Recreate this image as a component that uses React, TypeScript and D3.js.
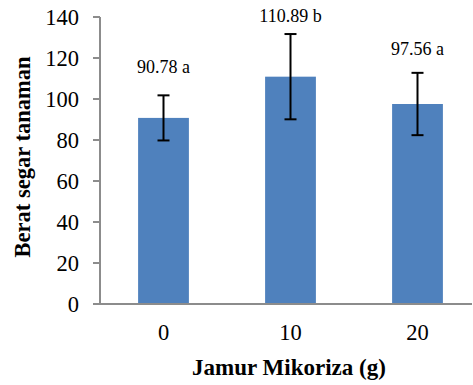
import React from 'react';
import * as d3 from 'd3';

// data
const doses = ['0', '10', '20'];
const means = [90.78, 110.89, 97.56];
const errors = [11, 20.8, 15.2];
const letters = ['a', 'b', 'a'];
// where each value label sits (in data units)
const labelAt = [112.5, 137.6, 121.5];
const yTicks = [0, 20, 40, 60, 80, 100, 120, 140];

const W = 473;
const H = 385;
const margin = { top: 17, left: 100, bottom: 81, right: 0 };

const App = () => {
  const y = d3.scaleLinear()
    .domain([0, 140])
    .range([H - margin.bottom, margin.top]);

  const x = d3.scaleBand()
    .domain(doses)
    .range([margin.left, 481])
    .paddingInner(0.6)
    .paddingOuter(0.3);

  const axisColor = '#8c8c8c';
  const font = "'Liberation Serif', 'Times New Roman', serif";

  return (
    <svg width={W} height={H} style={{ position: 'absolute', left: 0, top: 0, background: '#fff', fontFamily: font }}>
      {/* y axis */}
      <line x1={margin.left} x2={margin.left} y1={y(140)} y2={y(0)} stroke={axisColor} strokeWidth={2} />
      {yTicks.map(t => (
        <g key={t}>
          <line x1={margin.left - 7} x2={margin.left} y1={y(t)} y2={y(t)} stroke={axisColor} strokeWidth={2} />
          <text x={margin.left - 21} y={y(t)} dy="0.35em" textAnchor="end" fontSize={22.5} fill="#000">{t}</text>
        </g>
      ))}

      {/* bars */}
      {doses.map((d, i) => (
        <rect key={d} x={x(d)} y={y(means[i])} width={x.bandwidth()} height={y(0) - y(means[i])} fill="#4f81bd" />
      ))}

      {/* x axis */}
      <line x1={margin.left - 7} x2={472} y1={y(0)} y2={y(0)} stroke={axisColor} strokeWidth={2} />
      {doses.map(d => (
        <text key={d} x={(x(d) ?? 0) + x.bandwidth() / 2} y={340} textAnchor="middle" fontSize={22.5} fill="#000">{d}</text>
      ))}

      {/* error bars */}
      {doses.map((d, i) => {
        const cx = (x(d) ?? 0) + x.bandwidth() / 2;
        const top = y(means[i] + errors[i]);
        const bot = y(means[i] - errors[i]);
        return (
          <g key={d} stroke="#000" strokeWidth={2}>
            <line x1={cx} x2={cx} y1={top} y2={bot} />
            <line x1={cx - 6} x2={cx + 6} y1={top} y2={top} />
            <line x1={cx - 6} x2={cx + 6} y1={bot} y2={bot} />
          </g>
        );
      })}

      {/* value labels */}
      {doses.map((d, i) => (
        <text key={d} x={(x(d) ?? 0) + x.bandwidth() / 2} y={y(labelAt[i])} textAnchor="middle" fontSize={18} fill="#000">
          {`${means[i].toFixed(2)} ${letters[i]}`}
        </text>
      ))}

      {/* axis titles */}
      <text x={289} y={375} textAnchor="middle" fontSize={23} fontWeight="bold" fill="#000">Jamur Mikoriza (g)</text>
      <text transform={`translate(30, 157) rotate(-90)`} textAnchor="middle" fontSize={22.5} fontWeight="bold" fill="#000">
        Berat segar tanaman
      </text>
    </svg>
  );
};

export default App;
